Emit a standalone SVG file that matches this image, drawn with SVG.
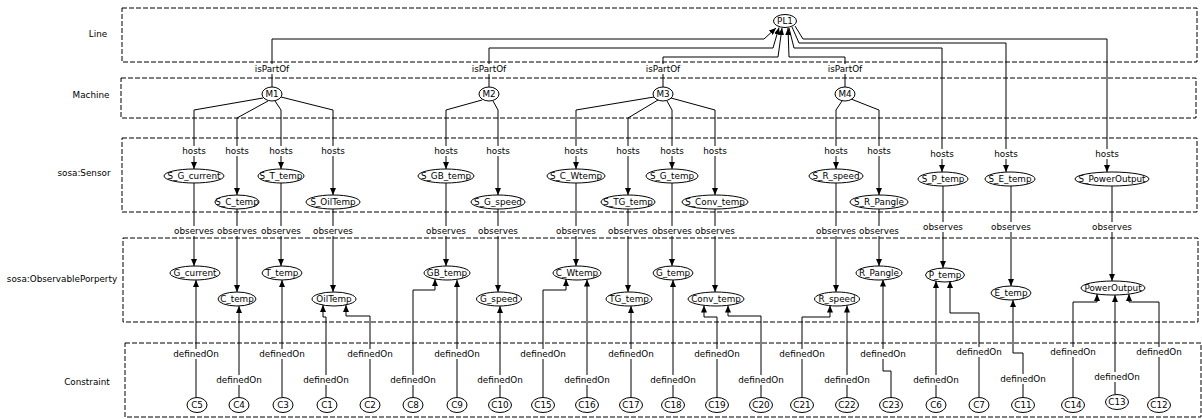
<svg xmlns="http://www.w3.org/2000/svg" width="1202" height="419" viewBox="0 0 1202 419">
<style>
text{font-family:"DejaVu Sans","Liberation Sans",sans-serif;font-size:8.8px;fill:#000;text-anchor:middle;dominant-baseline:central}
.lane{fill:none;stroke:#000;stroke-width:1;stroke-dasharray:5,2}
.n ellipse{fill:#fff;stroke:#000;stroke-width:1}
#edges path{fill:none;stroke:#000;stroke-width:1;marker-end:url(#arr)}
</style>
<defs>
<marker id="arr" markerUnits="userSpaceOnUse" markerWidth="7" markerHeight="6" refX="7" refY="3" orient="auto">
<path d="M0,0 L7,3 L0,6 z" fill="#000"/>
</marker>
</defs>
<rect x="0" y="0" width="1202" height="419" fill="#fff"/>
<g id="lanes">
<rect class="lane" x="122" y="8" width="1075" height="54"/>
<rect class="lane" x="121" y="78" width="1075" height="40"/>
<rect class="lane" x="122" y="138" width="1075" height="74"/>
<rect class="lane" x="123" y="238" width="1075" height="84"/>
<rect class="lane" x="125" y="343" width="1076" height="74"/>
<text x="98" y="34">Line</text>
<text x="91" y="95">Machine</text>
<text x="84" y="173">sosa:Sensor</text>
<text x="62" y="279">sosa:ObservablePorperty</text>
<text x="87" y="382">Constraint</text>
</g>
<g id="edges">
<path d="M272,87 L272,74 M272,64 L272,39 L764,39 L776,28"/>
<path d="M489,87 L489,74 M489,64 L489,48 L773,48 L779,27.5"/>
<path d="M663,87 L663,74 M663,64 L663,57 L778,57 L782,28"/>
<path d="M845,87 L845,74 M845,64 L845,57 L789,57 L788,28"/>
<path d="M795,26 L803,39 L1107,39 L1107,149 M1107,159 L1107,172"/>
<path d="M792,27 L799,43 L1006,43 L1006,149 M1006,159 L1006,172"/>
<path d="M789,28 L794,48 L942,48 L942,149 M942,159 L942,172"/>
<path d="M263,98 L194,110 L194,146 M194,156 L194,169"/>
<path d="M268,101 L237,118 L237,146 M237,156 L237,195"/>
<path d="M275,101 L281,110 L281,146 M281,156 L281,169"/>
<path d="M281,97 L333,110 L333,146 M333,156 L333,195"/>
<path d="M482,100 L446,110 L446,146 M446,156 L446,169"/>
<path d="M493,101 L498,110 L498,146 M498,156 L498,195"/>
<path d="M654,97 L576,110 L576,146 M576,156 L576,169"/>
<path d="M658,100 L628,118 L628,146 M628,156 L628,195"/>
<path d="M667,101 L672,110 L672,146 M672,156 L672,169"/>
<path d="M671,98 L715,110 L715,146 M715,156 L715,195"/>
<path d="M842,101 L836,110 L836,146 M836,156 L836,169"/>
<path d="M851,99 L879,110 L879,146 M879,156 L879,195"/>
<path d="M194,183 L194,226 M194,236 L194,266"/>
<path d="M237,209 L237,226 M237,236 L237,292"/>
<path d="M281,183 L281,226 M281,236 L281,266"/>
<path d="M333,209 L333,226 M333,236 L333,292"/>
<path d="M446,183 L446,226 M446,236 L446,266"/>
<path d="M498,209 L498,226 M498,236 L498,292"/>
<path d="M576,183 L576,226 M576,236 L576,266"/>
<path d="M628,209 L628,226 M628,236 L628,292"/>
<path d="M672,183 L672,226 M672,236 L672,266"/>
<path d="M715,209 L715,226 M715,236 L715,292"/>
<path d="M836,183 L836,226 M836,236 L836,292"/>
<path d="M879,209 L879,226 M879,236 L879,266"/>
<path d="M943,186 L943,222 M943,232 L943,268"/>
<path d="M1011,186 L1011,222 M1011,232 L1011,286"/>
<path d="M1112,186 L1112,222 M1112,232 L1112,281"/>
<path d="M196,397 L196,359 M196,349 L196,280"/>
<path d="M239,397 L239,385 M239,375 L239,306"/>
<path d="M282,397 L282,359 M282,349 L282,280"/>
<path d="M326,397 L326,385 M326,375 L326,317 L323,317 L323,305"/>
<path d="M370,397 L370,359 M370,349 L370,316 L346,316 L346,305"/>
<path d="M413,397 L413,385 M413,375 L413,290 L435,290 L435,279"/>
<path d="M457,397 L457,359 M457,349 L457,280"/>
<path d="M500,397 L500,385 M500,375 L500,306"/>
<path d="M543,397 L543,359 M543,349 L543,290 L566,290 L566,279"/>
<path d="M587,397 L587,385 M587,375 L587,279.5"/>
<path d="M631,397 L631,359 M631,349 L631,306"/>
<path d="M673,397 L673,385 M673,375 L673,280"/>
<path d="M717,397 L717,359 M717,349 L717,317 L704,317 L704,305.5"/>
<path d="M761,397 L761,385 M761,375 L761,316 L728,316 L728,305.5"/>
<path d="M802,397 L802,359 M802,349 L802,317 L830,317 L830,305.5"/>
<path d="M847,397 L847,385 M847,375 L847,305.5"/>
<path d="M891,397.5 L891,371 L883,371 L883,359 M883,349 L883,279.5"/>
<path d="M936,397 L936,385 M936,375 L936,281"/>
<path d="M979,397 L979,357 M979,347 L979,313 L950,313 L950,281"/>
<path d="M1023,397 L1023,384 M1023,374 L1023,353 L1013,353 L1013,300"/>
<path d="M1073,397 L1073,357 M1073,347 L1073,302 L1097,302 L1097,294"/>
<path d="M1115,394.5 L1115,382 M1115,372 L1115,295"/>
<path d="M1159,397 L1159,357 M1159,347 L1159,302 L1129,302 L1129,294"/>
</g>
<g id="edge-labels">
<text x="272" y="69">isPartOf</text>
<text x="489" y="69">isPartOf</text>
<text x="663" y="69">isPartOf</text>
<text x="845" y="69">isPartOf</text>
<text x="194" y="151">hosts</text>
<text x="237" y="151">hosts</text>
<text x="281" y="151">hosts</text>
<text x="333" y="151">hosts</text>
<text x="446" y="151">hosts</text>
<text x="498" y="151">hosts</text>
<text x="576" y="151">hosts</text>
<text x="628" y="151">hosts</text>
<text x="672" y="151">hosts</text>
<text x="715" y="151">hosts</text>
<text x="836" y="151">hosts</text>
<text x="879" y="151">hosts</text>
<text x="942" y="154">hosts</text>
<text x="1006" y="154">hosts</text>
<text x="1107" y="154">hosts</text>
<text x="194" y="231">observes</text>
<text x="237" y="231">observes</text>
<text x="281" y="231">observes</text>
<text x="333" y="231">observes</text>
<text x="446" y="231">observes</text>
<text x="498" y="231">observes</text>
<text x="576" y="231">observes</text>
<text x="628" y="231">observes</text>
<text x="672" y="231">observes</text>
<text x="715" y="231">observes</text>
<text x="836" y="231">observes</text>
<text x="879" y="231">observes</text>
<text x="943" y="227">observes</text>
<text x="1011" y="227">observes</text>
<text x="1112" y="227">observes</text>
<text x="196" y="354">definedOn</text>
<text x="239" y="380">definedOn</text>
<text x="282" y="354">definedOn</text>
<text x="326" y="380">definedOn</text>
<text x="370" y="354">definedOn</text>
<text x="413" y="380">definedOn</text>
<text x="457" y="354">definedOn</text>
<text x="500" y="380">definedOn</text>
<text x="543" y="354">definedOn</text>
<text x="587" y="380">definedOn</text>
<text x="631" y="354">definedOn</text>
<text x="673" y="380">definedOn</text>
<text x="717" y="354">definedOn</text>
<text x="761" y="380">definedOn</text>
<text x="802" y="354">definedOn</text>
<text x="847" y="380">definedOn</text>
<text x="883" y="354">definedOn</text>
<text x="936" y="380">definedOn</text>
<text x="979" y="352">definedOn</text>
<text x="1023" y="379">definedOn</text>
<text x="1073" y="352">definedOn</text>
<text x="1117" y="377">definedOn</text>
<text x="1159" y="352">definedOn</text>
</g>
<g id="PL1" class="n"><ellipse cx="785" cy="21" rx="11.5" ry="6.5"/><text x="785" y="21">PL1</text></g>
<g id="M1" class="n"><ellipse cx="272" cy="94" rx="10" ry="7"/><text x="272" y="94">M1</text></g>
<g id="M2" class="n"><ellipse cx="489" cy="94" rx="10" ry="7"/><text x="489" y="94">M2</text></g>
<g id="M3" class="n"><ellipse cx="663" cy="94" rx="10" ry="7"/><text x="663" y="94">M3</text></g>
<g id="M4" class="n"><ellipse cx="845" cy="94" rx="10" ry="7"/><text x="845" y="94">M4</text></g>
<g id="S_G_current" class="n"><ellipse cx="194" cy="176" rx="30" ry="7"/><text x="194" y="176">S_G_current</text></g>
<g id="S_C_temp" class="n"><ellipse cx="237" cy="202" rx="22" ry="7"/><text x="237" y="202">S_C_temp</text></g>
<g id="S_T_temp" class="n"><ellipse cx="281" cy="176" rx="23" ry="7"/><text x="281" y="176">S_T_temp</text></g>
<g id="S_OilTemp" class="n"><ellipse cx="333" cy="202" rx="27" ry="7"/><text x="333" y="202">S_OilTemp</text></g>
<g id="S_GB_temp" class="n"><ellipse cx="446" cy="176" rx="28" ry="7"/><text x="446" y="176">S_GB_temp</text></g>
<g id="S_G_speed" class="n"><ellipse cx="498" cy="202" rx="27" ry="7"/><text x="498" y="202">S_G_speed</text></g>
<g id="S_C_Wtemp" class="n"><ellipse cx="576" cy="176" rx="29" ry="7"/><text x="576" y="176">S_C_Wtemp</text></g>
<g id="S_TG_temp" class="n"><ellipse cx="628" cy="202" rx="27" ry="7"/><text x="628" y="202">S_TG_temp</text></g>
<g id="S_G_temp" class="n"><ellipse cx="672" cy="176" rx="26" ry="7"/><text x="672" y="176">S_G_temp</text></g>
<g id="S_Conv_temp" class="n"><ellipse cx="715" cy="202" rx="33" ry="7"/><text x="715" y="202">S_Conv_temp</text></g>
<g id="S_R_speed" class="n"><ellipse cx="836" cy="176" rx="27" ry="7"/><text x="836" y="176">S_R_speed</text></g>
<g id="S_R_Pangle" class="n"><ellipse cx="879" cy="202" rx="29" ry="7"/><text x="879" y="202">S_R_Pangle</text></g>
<g id="S_P_temp" class="n"><ellipse cx="943" cy="179" rx="25" ry="7"/><text x="943" y="179">S_P_temp</text></g>
<g id="S_E_temp" class="n"><ellipse cx="1010" cy="179" rx="25" ry="7"/><text x="1010" y="179">S_E_temp</text></g>
<g id="S_PowerOutput" class="n"><ellipse cx="1112" cy="179" rx="37" ry="7"/><text x="1112" y="179">S_PowerOutput</text></g>
<g id="G_current" class="n"><ellipse cx="195" cy="273" rx="25" ry="7"/><text x="195" y="273">G_current</text></g>
<g id="C_temp" class="n"><ellipse cx="237" cy="299" rx="19" ry="7"/><text x="237" y="299">C_temp</text></g>
<g id="T_temp" class="n"><ellipse cx="282" cy="273" rx="20" ry="7"/><text x="282" y="273">T_temp</text></g>
<g id="OilTemp" class="n"><ellipse cx="334" cy="299" rx="22" ry="7"/><text x="334" y="299">OilTemp</text></g>
<g id="GB_temp" class="n"><ellipse cx="447" cy="273" rx="23" ry="7"/><text x="447" y="273">GB_temp</text></g>
<g id="G_speed" class="n"><ellipse cx="499" cy="299" rx="22.5" ry="7"/><text x="499" y="299">G_speed</text></g>
<g id="C_Wtemp" class="n"><ellipse cx="577" cy="273" rx="24" ry="7"/><text x="577" y="273">C_Wtemp</text></g>
<g id="TG_temp" class="n"><ellipse cx="629" cy="299" rx="23" ry="7"/><text x="629" y="299">TG_temp</text></g>
<g id="G_temp" class="n"><ellipse cx="673" cy="273" rx="20" ry="7"/><text x="673" y="273">G_temp</text></g>
<g id="Conv_temp" class="n"><ellipse cx="716" cy="299" rx="28" ry="7"/><text x="716" y="299">Conv_temp</text></g>
<g id="R_speed" class="n"><ellipse cx="837" cy="299" rx="22.5" ry="7"/><text x="837" y="299">R_speed</text></g>
<g id="R_Pangle" class="n"><ellipse cx="879" cy="273" rx="23" ry="7"/><text x="879" y="273">R_Pangle</text></g>
<g id="P_temp" class="n"><ellipse cx="945" cy="275" rx="19.5" ry="7"/><text x="945" y="275">P_temp</text></g>
<g id="E_temp" class="n"><ellipse cx="1011" cy="293" rx="20" ry="7"/><text x="1011" y="293">E_temp</text></g>
<g id="PowerOutput" class="n"><ellipse cx="1113" cy="288" rx="32" ry="7"/><text x="1113" y="288">PowerOutput</text></g>
<g id="C5" class="n"><ellipse cx="197" cy="405" rx="10" ry="7.5"/><text x="197" y="405">C5</text></g>
<g id="C4" class="n"><ellipse cx="239" cy="405" rx="10" ry="7.5"/><text x="239" y="405">C4</text></g>
<g id="C3" class="n"><ellipse cx="283" cy="405" rx="10" ry="7.5"/><text x="283" y="405">C3</text></g>
<g id="C1" class="n"><ellipse cx="327" cy="405" rx="10" ry="7.5"/><text x="327" y="405">C1</text></g>
<g id="C2" class="n"><ellipse cx="370" cy="405" rx="10" ry="7.5"/><text x="370" y="405">C2</text></g>
<g id="C8" class="n"><ellipse cx="413" cy="405" rx="10" ry="7.5"/><text x="413" y="405">C8</text></g>
<g id="C9" class="n"><ellipse cx="457" cy="405" rx="10" ry="7.5"/><text x="457" y="405">C9</text></g>
<g id="C10" class="n"><ellipse cx="500" cy="405" rx="11.5" ry="7.5"/><text x="500" y="405">C10</text></g>
<g id="C15" class="n"><ellipse cx="543" cy="405" rx="11.5" ry="7.5"/><text x="543" y="405">C15</text></g>
<g id="C16" class="n"><ellipse cx="587" cy="405" rx="11.5" ry="7.5"/><text x="587" y="405">C16</text></g>
<g id="C17" class="n"><ellipse cx="631" cy="405" rx="11.5" ry="7.5"/><text x="631" y="405">C17</text></g>
<g id="C18" class="n"><ellipse cx="673" cy="405" rx="11.5" ry="7.5"/><text x="673" y="405">C18</text></g>
<g id="C19" class="n"><ellipse cx="717" cy="405" rx="11.5" ry="7.5"/><text x="717" y="405">C19</text></g>
<g id="C20" class="n"><ellipse cx="761" cy="405" rx="11.5" ry="7.5"/><text x="761" y="405">C20</text></g>
<g id="C21" class="n"><ellipse cx="802" cy="405" rx="11.5" ry="7.5"/><text x="802" y="405">C21</text></g>
<g id="C22" class="n"><ellipse cx="847" cy="405" rx="11.5" ry="7.5"/><text x="847" y="405">C22</text></g>
<g id="C23" class="n"><ellipse cx="891" cy="405" rx="11.5" ry="7.5"/><text x="891" y="405">C23</text></g>
<g id="C6" class="n"><ellipse cx="936" cy="405" rx="10" ry="7.5"/><text x="936" y="405">C6</text></g>
<g id="C7" class="n"><ellipse cx="979" cy="405" rx="10" ry="7.5"/><text x="979" y="405">C7</text></g>
<g id="C11" class="n"><ellipse cx="1023" cy="405" rx="11.5" ry="7.5"/><text x="1023" y="405">C11</text></g>
<g id="C14" class="n"><ellipse cx="1073" cy="405" rx="11.5" ry="7.5"/><text x="1073" y="405">C14</text></g>
<g id="C13" class="n"><ellipse cx="1117" cy="402" rx="11.5" ry="7.5"/><text x="1117" y="402">C13</text></g>
<g id="C12" class="n"><ellipse cx="1159" cy="405" rx="11.5" ry="7.5"/><text x="1159" y="405">C12</text></g>
</svg>
